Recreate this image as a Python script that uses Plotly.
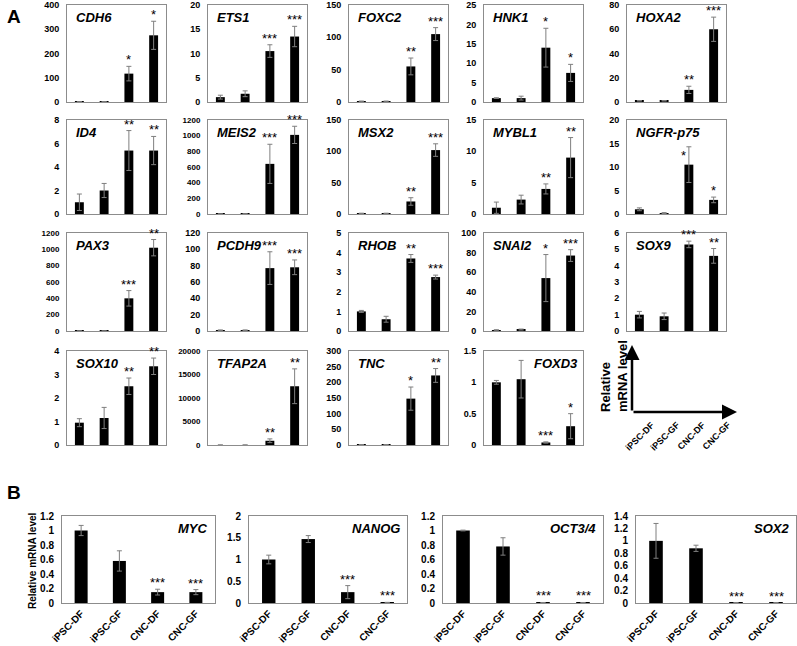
import plotly.graph_objects as go

W, H = 797, 646
FONT = "Arial, Liberation Sans, sans-serif"

groups = ["iPSC-DF", "iPSC-GF", "CNC-DF", "CNC-GF"]

# ---------------- Panel A data ----------------
genes_A = ["CDH6", "ETS1", "FOXC2", "HNK1", "HOXA2",
           "ID4", "MEIS2", "MSX2", "MYBL1", "NGFR-p75",
           "PAX3", "PCDH9", "RHOB", "SNAI2", "SOX9",
           "SOX10", "TFAP2A", "TNC", "FOXD3"]
means_A = [
    [1, 1, 117, 275], [1.0, 1.7, 10.5, 13.5], [1, 1, 55, 105], [1.0, 1.0, 14, 7.5], [1, 1, 10, 60],
    [1.0, 2.0, 5.4, 5.4], [1, 2, 640, 1010], [1, 1, 20, 102], [1.0, 2.3, 4.0, 9.0], [1.0, 0.2, 10.5, 3.0],
    [1, 1, 400, 1020], [1, 1, 77, 78], [1.0, 0.6, 3.7, 2.75], [1, 1.5, 54, 77], [1.0, 0.9, 5.3, 4.6],
    [0.95, 1.15, 2.5, 3.35], [1, 1, 900, 12500], [1, 1, 148, 222], [1.0, 1.05, 0.04, 0.3],
]
errs_A = [
    [0.3, 0.3, 30, 58], [0.4, 0.6, 1.3, 2.1], [0.5, 0.5, 13, 10], [0.1, 0.5, 5, 2.2], [0.2, 0.2, 3, 10],
    [0.7, 0.6, 1.7, 1.2], [0.5, 1, 250, 110], [0.3, 0.3, 6, 10], [0.9, 0.7, 0.8, 3.2], [0.3, 0.1, 3.8, 0.6],
    [1, 1, 95, 100], [0.3, 0.3, 20, 9], [0.05, 0.15, 0.2, 0.1], [0.3, 0.5, 24, 6], [0.2, 0.2, 0.2, 0.45],
    [0.17, 0.45, 0.35, 0.35], [10, 10, 400, 3700], [0.5, 0.5, 37, 22], [0.03, 0.3, 0.01, 0.2],
]
stars_A = [
    ["", "", "*", "*"], ["", "", "***", "***"], ["", "", "**", "***"], ["", "", "*", "*"], ["", "", "**", "***"],
    ["", "", "**", "**"], ["", "", "***", "***"], ["", "", "**", "***"], ["", "", "**", "**"], ["", "", "*", "*"],
    ["", "", "***", "**"], ["", "", "***", "***"], ["", "", "**", "***"], ["", "", "*", "***"], ["", "", "***", "**"],
    ["", "", "**", "**"], ["", "", "**", "**"], ["", "", "*", "**"], ["", "", "***", "*"],
]
ymax_A = [400, 20, 150, 25, 80, 8, 1200, 150, 15, 20, 1200, 120, 5, 100, 6, 4, 20000, 300, 1.5]
dtick_A = [100, 5, 50, 5, 20, 2, 200, 50, 5, 5, 200, 20, 1, 20, 1, 1, 5000, 50, 0.5]

# ---------------- Panel B data ----------------
genes_B = ["MYC", "NANOG", "OCT3/4", "SOX2"]
means_B = [[1.0, 0.58, 0.15, 0.15], [1.0, 1.47, 0.25, 0.01], [1.0, 0.78, 0.005, 0.005], [1.0, 0.88, 0.005, 0.005]]
errs_B = [[0.07, 0.14, 0.04, 0.035], [0.1, 0.08, 0.15, 0.005], [0.005, 0.12, 0.002, 0.002], [0.28, 0.05, 0.002, 0.002]]
stars_B = [["", "", "***", "***"]] * 4
ymax_B = [1.2, 2, 1.2, 1.4]
dtick_B = [0.2, 0.5, 0.2, 0.2]

# star placed beside the bar top instead of above the error bar
star_beside = {("NGFR-p75", 2)}

# ---------------- layout geometry (pixels) ----------------
colsA = [67, 208, 349, 484, 627]
colwA = 99
rowsA = [(5, 102), (120, 214), (233, 331), (351, 445)]
boxesB = [(62, 215), (249, 407), (443, 603), (636, 796)]
rowB = (516, 603)


def dx(x0, x1):
    return [x0 / W, x1 / W]


def dy(y0, y1):
    return [1 - y1 / H, 1 - y0 / H]


fig = go.Figure()
layout = dict(width=W, height=H, margin=dict(l=0, r=0, t=0, b=0, autoexpand=False),
              plot_bgcolor="white", paper_bgcolor="white",
              showlegend=False, font=dict(family=FONT, color="black"))
annotations = []

panels = []
for i, g in enumerate(genes_A):
    r, c = divmod(i, 5)
    x0 = colsA[c]
    y0, y1 = rowsA[r]
    panels.append(dict(name=g, m=means_A[i], e=errs_A[i], s=stars_A[i], ymax=ymax_A[i],
                       dt=dtick_A[i], xd=dx(x0, x0 + colwA), yd=dy(y0, y1), B=False,
                       right=(g == "FOXD3")))
for i, g in enumerate(genes_B):
    x0, x1 = boxesB[i]
    panels.append(dict(name=g, m=means_B[i], e=errs_B[i], s=stars_B[i], ymax=ymax_B[i],
                       dt=dtick_B[i], xd=dx(x0, x1), yd=dy(*rowB), B=True, right=True))

for k, p in enumerate(panels, start=1):
    sfx = "" if k == 1 else str(k)
    xa, ya = "x" + sfx, "y" + sfx
    fig.add_trace(go.Bar(x=[0, 1, 2, 3], y=p["m"], xaxis=xa, yaxis=ya,
                         marker=dict(color="black", line=dict(width=0)),
                         width=0.34 if p["B"] else 0.36,
                         error_y=dict(type="data", array=p["e"], color="#7f7f7f",
                                      thickness=1, width=2.5)))
    big = p["ymax"] >= 1000
    size = 10 if p["B"] else (8 if big else 9)
    ax_common = dict(showline=True, mirror=True, linecolor="#8c8c8c", linewidth=1,
                     showgrid=False, zeroline=False, automargin=False)
    layout["xaxis" + sfx] = dict(domain=p["xd"], anchor=ya, range=[-0.5, 3.5], fixedrange=True,
                                 tickmode="array", tickvals=[0, 1, 2, 3],
                                 ticktext=groups if p["B"] else ["", "", "", ""],
                                 showticklabels=p["B"], tickangle=-45,
                                 tickfont=dict(family=FONT, size=10, color="black", weight="bold"),
                                 ticks="", **ax_common)
    tf = dict(family=FONT, size=size, color="black", weight="bold")
    yax = dict(domain=p["yd"], anchor=xa, range=[0, p["ymax"]], dtick=p["dt"], tick0=0,
               tickfont=tf, ticks="outside", ticklen=5, tickcolor="rgba(0,0,0,0)", **ax_common)
    if p["dt"] >= 1:
        yax["tickformat"] = "d"
    layout["yaxis" + sfx] = yax
    # gene title
    if p["right"]:
        annotations.append(dict(text="<b><i>%s</i></b>" % p["name"], xref=xa + " domain", yref=ya + " domain",
                                x=0.97, y=0.97, xanchor="right", yanchor="top", showarrow=False,
                                font=dict(family=FONT, size=13, color="black")))
    else:
        annotations.append(dict(text="<b><i>%s</i></b>" % p["name"], xref=xa + " domain", yref=ya + " domain",
                                x=0.07, y=0.97, xanchor="left", yanchor="top", showarrow=False,
                                font=dict(family=FONT, size=13, color="black")))
    # significance stars
    for j in range(4):
        if p["s"][j]:
            if (p["name"], j) in star_beside:
                annotations.append(dict(text=p["s"][j], xref=xa, yref=ya, x=j, y=p["m"][j],
                                        xanchor="right", yanchor="bottom", showarrow=False, xshift=-1,
                                        font=dict(family=FONT, size=13, color="black")))
            else:
                annotations.append(dict(text=p["s"][j], xref=xa, yref=ya, x=j, y=p["m"][j] + p["e"][j],
                                        xanchor="center", yanchor="bottom", showarrow=False, yshift=-3,
                                        font=dict(family=FONT, size=13, color="black")))

# B y-axis title
annotations.append(dict(text="<b>Relative mRNA level</b>", xref="paper", yref="paper",
                        x=32 / W, y=1 - 560 / H, textangle=-90, showarrow=False,
                        xanchor="center", yanchor="middle", font=dict(family=FONT, size=10, color="black")))

# panel letters
annotations.append(dict(text="<b>A</b>", xref="paper", yref="paper", x=5 / W, y=1 - 17 / H,
                        xanchor="left", yanchor="middle", showarrow=False,
                        font=dict(family=FONT, size=19, color="black")))
annotations.append(dict(text="<b>B</b>", xref="paper", yref="paper", x=5 / W, y=1 - 492 / H,
                        xanchor="left", yanchor="middle", showarrow=False,
                        font=dict(family=FONT, size=19, color="black")))

# schematic axes legend
ox, oy = 632, 412
annotations.append(dict(text="", xref="paper", yref="paper", x=ox / W, y=1 - 345 / H,
                        ax=0, ay=(oy - 345), axref="pixel", ayref="pixel", showarrow=True,
                        arrowhead=2, arrowsize=1.2, arrowwidth=2.5, arrowcolor="black"))
annotations.append(dict(text="", xref="paper", yref="paper", x=737 / W, y=1 - oy / H,
                        ax=-(737 - ox), ay=0, axref="pixel", ayref="pixel", showarrow=True,
                        arrowhead=2, arrowsize=1.2, arrowwidth=2.5, arrowcolor="black"))
annotations.append(dict(text="<b>Relative<br>mRNA level</b>", xref="paper", yref="paper",
                        x=614 / W, y=1 - 376 / H, textangle=-90, align="left", showarrow=False,
                        xanchor="center", yanchor="middle", font=dict(family=FONT, size=13, color="black")))
for j, g in enumerate(groups):
    annotations.append(dict(text="<b>%s</b>" % g, xref="paper", yref="paper",
                            x=(660 + 25 * j) / W, y=1 - 417 / H, textangle=-45, showarrow=False,
                            xanchor="right", yanchor="top", font=dict(family=FONT, size=9, color="black")))

layout["annotations"] = annotations
fig.update_layout(**layout)
fig.write_html("out.html", config={"displayModeBar": False},
               post_script="document.body.style.margin='0px';document.body.style.overflow='hidden';")
